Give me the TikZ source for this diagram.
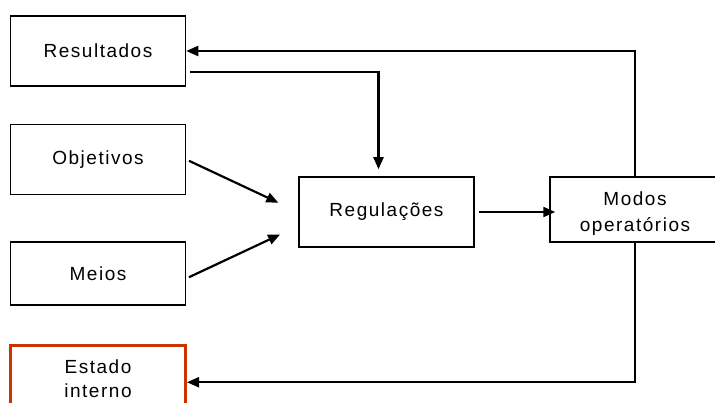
\documentclass[tikz,border=0pt]{standalone}
\usepackage{fontspec}
\setmainfont{Liberation Sans}[LetterSpace=8]
\usetikzlibrary{positioning, arrows.meta}
\definecolor{estadored}{RGB}{204,51,0}
\tikzset{
  box/.style={
    rectangle,
    draw=black, line width=1.5pt,
    minimum width=175pt, minimum height=70pt,
    align=center,
    font=\fontsize{19}{24}\selectfont
  },
  flow/.style={line width=2.2pt}
}

\begin{document}
\begin{tikzpicture}[x=1pt, y=-1pt, node distance=37pt, >={Triangle[length=12pt,width=10pt]}]
          \useasboundingbox (0,0) rectangle (715,403);
          \node[box] (resultados) at (98,51) {Resultados};
          \node[box] (objetivos) [below=of resultados] {Objetivos};
          \node[box, minimum height=63pt] (meios) [below=46pt of objetivos] {Meios};
          \node[box, draw=estadored, line width=3pt, minimum height=66pt] (estado) [below=38pt of meios] {Estado\\interno};
          \node[box] (regulacoes) at (386.5,212) {Regulações};
          \node[box, minimum width=170pt, minimum height=65pt, font=\fontsize{19}{26}\selectfont,
                text height=44pt, text depth=0pt] (modos) at (635,209.5) {Modos\\operatórios};

          \draw[flow, ->] (modos.north) |- (resultados.east);
          \draw[flow, ->] (modos.south) |- ([yshift=-4pt]estado.east);
          \draw[flow, ->, shorten <=4pt, shorten >=7pt]
            ([yshift=-21pt]resultados.east) -| ([xshift=-8pt]regulacoes.north);
          \draw[flow, ->, shorten <=3pt, shorten >=22pt] (objetivos.east) -- (regulacoes.west);
          \draw[flow, ->, shorten <=3pt, shorten >=20pt]
            ([yshift=-5pt]meios.east) -- ([yshift=-14pt]regulacoes.west);
          \draw[flow, ->, shorten <=4pt, shorten >=-6pt] (regulacoes.east) -- (regulacoes.east -| modos.west);
        \end{tikzpicture}
\end{document}
